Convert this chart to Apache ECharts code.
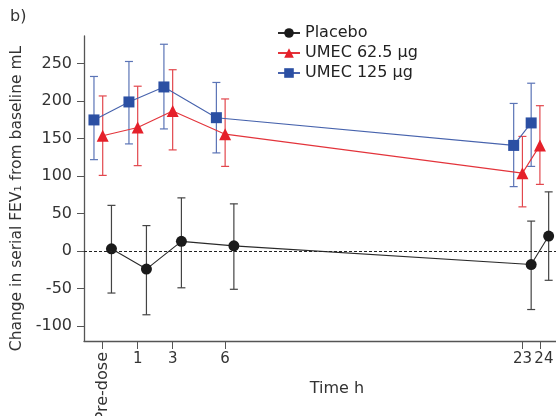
<!DOCTYPE html>
<html>
<head>
<meta charset="utf-8">
<script src="https://cdn.jsdelivr.net/npm/echarts@6/dist/echarts.min.js"></script>
<style>
  html, body { margin: 0; padding: 0; background: #fff; }
  #main { width: 556px; height: 416px; }
</style>
</head>
<body>
<div id="main"></div>
<script>
// time points (h), pre-dose sits at -1 on the axis
var timeValues = [-1, 1, 3, 6, 23, 24];
var timeTicks = [1, 3, 6, 23];
var lastTick = [24];
var yTicks = [-100, -50, 0, 50, 100, 150, 200, 250];

// mean and error bar ends, mL
var placeboMean  = [3, -24, 13, 7, -18, 20];
var placeboUpper = [61, 34, 71, 63, 40, 79];
var placeboLower = [-56, -85, -49, -51, -78, -39];

var umec62Mean  = [154, 165, 187, 156, 104, 141];
var umec62Upper = [207, 220, 242, 203, 153, 194];
var umec62Lower = [101, 114, 135, 113, 59, 89];

var umec125Mean  = [175, 199, 219, 178, 141, 171];
var umec125Upper = [233, 253, 276, 225, 197, 224];
var umec125Lower = [122, 143, 163, 131, 86, 113];

var font = '"DejaVu Sans", sans-serif';

// groups are dodged a little around each time point
var groups = [
    { name: 'UMEC 125 µg', mean: umec125Mean, up: umec125Upper, lo: umec125Lower,
      dodge: -0.5, color: '#2b4fa3', line: '#4763ad', bar: '#5b74b6', symbol: 'rect', size: 11 },
    { name: 'UMEC 62.5 µg', mean: umec62Mean, up: umec62Upper, lo: umec62Lower,
      dodge: 0, color: '#e5202a', line: '#e3343b', bar: '#e2474d', symbol: 'triangle', size: 12 },
    { name: 'Placebo', mean: placeboMean, up: placeboUpper, lo: placeboLower,
      dodge: 0.5, color: '#1a1a1a', line: '#2a2a2a', bar: '#444', symbol: 'circle', size: 11 }
];

function errorBar(params, api) {
    var x = api.value(0);
    var lo = api.coord([x, api.value(1)]);
    var hi = api.coord([x, api.value(2)]);
    var cap = 4;
    var st = { stroke: api.visual('color'), lineWidth: 1.2 };
    return {
        type: 'group',
        children: [
            { type: 'line', shape: { x1: lo[0], y1: lo[1], x2: hi[0], y2: hi[1] }, style: st },
            { type: 'line', shape: { x1: hi[0] - cap, y1: hi[1], x2: hi[0] + cap, y2: hi[1] }, style: st },
            { type: 'line', shape: { x1: lo[0] - cap, y1: lo[1], x2: lo[0] + cap, y2: lo[1] }, style: st }
        ]
    };
}

var seriesArray = [];
groups.forEach(function (g) {
    var bars = [], pts = [];
    for (var i = 0; i < timeValues.length; i++) {
        var x = timeValues[i] + g.dodge;
        bars.push([x, g.lo[i], g.up[i]]);
        pts.push([x, g.mean[i]]);
    }
    seriesArray.push({
        type: 'custom',
        name: g.name + ' err',
        renderItem: errorBar,
        itemStyle: { color: g.bar },
        data: bars,
        z: 2,
        silent: true
    });
    var line = {
        type: 'line',
        name: g.name,
        data: pts,
        symbol: g.symbol,
        symbolSize: g.size,
        showSymbol: true,
        itemStyle: { color: g.color },
        lineStyle: { color: g.line, width: 1.1 },
        z: 3
    };
    if (g.name === 'Placebo') {
        // dotted reference line at zero
        line.markLine = {
            silent: true,
            symbol: 'none',
            label: { show: false },
            lineStyle: { color: '#222', type: [3, 2], width: 1 },
            data: [{ yAxis: 0 }]
        };
    }
    seriesArray.push(line);
});

// extra label-only x axes (rotated pre-dose, and 24 which would be dropped next to 23)
function labelAxis(values, extra) {
    var ax = {
        type: 'value',
        position: 'bottom',
        min: -2.07,
        max: 24.92,
        splitLine: { show: false },
        axisLine: { show: false, onZero: false },
        axisTick: { show: false },
        axisLabel: { customValues: values, fontSize: 15, color: '#333', margin: 11 }
    };
    for (var k in extra) ax.axisLabel[k] = extra[k];
    return ax;
}

var myChart = echarts.init(document.getElementById('main'));
var option = {
    animation: false,
    textStyle: { fontFamily: font },
    grid: { left: 84, right: 0, top: 36, bottom: 75, outerBoundsMode: 'none' },
    graphic: [{
        type: 'text', left: 10, top: 9,
        style: { text: 'b)', fontSize: 16, fontFamily: font, fill: '#333' }
    }],
    legend: {
        data: ['Placebo', 'UMEC 62.5 µg', 'UMEC 125 µg'],
        orient: 'vertical',
        left: 272,
        top: 20,
        itemGap: 4,
        itemWidth: 22,
        itemHeight: 12,
        textStyle: { fontSize: 16, color: '#222', fontFamily: font }
    },
    xAxis: [{
        type: 'value',
        min: -2.07,
        max: 24.92,
        name: 'Time h',
        nameLocation: 'middle',
        nameGap: 40,
        nameTextStyle: { fontSize: 16, color: '#333', padding: [0, 0, 0, 34] },
        splitLine: { show: false },
        axisLine: { onZero: false, lineStyle: { color: '#555', width: 1.3 } },
        axisTick: { customValues: timeValues, length: 8, lineStyle: { color: '#555' } },
        axisLabel: { customValues: timeTicks, fontSize: 15, color: '#333', margin: 11 }
    },
    labelAxis([-1], { rotate: 90, fontSize: 16, formatter: function () { return 'Pre-dose'; } }),
    labelAxis(lastTick, { padding: [0, 0, 0, 8] })
    ],
    yAxis: {
        type: 'value',
        min: -120,
        max: 287,
        name: 'Change in serial FEV₁ from baseline mL',
        nameLocation: 'middle',
        nameGap: 58,
        nameTextStyle: { fontSize: 15.5, color: '#333', padding: [0, 20, 0, 0] },
        splitLine: { show: false },
        axisLine: { show: true, onZero: false, lineStyle: { color: '#555', width: 1.3 } },
        axisTick: { show: true, customValues: yTicks, length: 7, lineStyle: { color: '#555' } },
        axisLabel: { customValues: yTicks, fontSize: 16, color: '#333', margin: 12 }
    },
    series: seriesArray
};
myChart.setOption(option);
</script>
</body>
</html>
